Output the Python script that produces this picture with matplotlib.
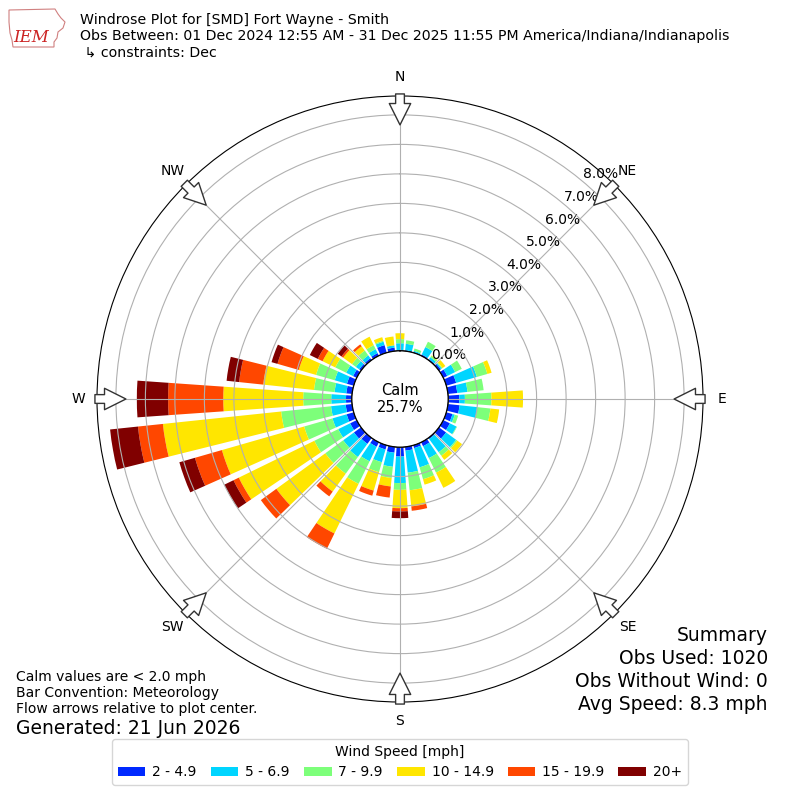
import numpy as np
import matplotlib
matplotlib.use('Agg')
import matplotlib.pyplot as plt
from matplotlib.patches import Patch, Polygon

# wind direction bins (deg, met. convention) and frequency [%] per speed class
directions = np.arange(0, 360, 10)
speed_labels = ['2 - 4.9', '5 - 6.9', '7 - 9.9', '10 - 14.9', '15 - 19.9', '20+']

pct_2_5 = [0.03, 0.03, 0.02, 0.05, 0.04, 0.08, 0.15, 0.35, 0.32, 0.38, 0.40, 0.22,
           0.25, 0.30, 0.05, 0.15, 0.10, 0.13, 0.32, 0.20, 0.15, 0.17, 0.25, 0.30,
           0.25, 0.25, 0.22, 0.20, 0.20, 0.24, 0.14, 0.08, 0.08, 0.10, 0.27, 0.12]
pct_5_7 = [0.23, 0.22, 0.05, 0.28, 0.08, 0.04, 0.30, 0.73, 0.35, 0.19, 0.60, 0.08,
           0.25, 0.42, 0.55, 0.45, 0.68, 0.75, 0.90, 0.48, 0.45, 0.55, 0.55, 0.45,
           0.45, 0.50, 0.50, 0.50, 0.40, 0.43, 0.26, 0.14, 0.12, 0.15, 0.12, 0.08]
pct_7_10 = [0.14, 0.12, 0.08, 0.20, 0.06, 0.03, 0.25, 0.37, 0.55, 0.90, 0.45, 0.12,
            0.02, 0.05, 0.15, 0.55, 0.42, 0.60, 0.23, 0.38, 0.35, 0.85, 0.70, 0.75,
            0.90, 1.00, 1.70, 0.95, 0.70, 0.66, 0.41, 0.16, 0.20, 0.15, 0.04, 0.00]
pct_10_15 = [0.20, 0.00, 0.00, 0.00, 0.02, 0.12, 0.00, 0.15, 0.00, 1.07, 0.30, 0.00,
             0.00, 0.20, 0.17, 0.57, 0.19, 0.55, 0.62, 0.29, 0.65, 1.87, 0.75, 2.05,
             2.85, 2.90, 4.03, 2.71, 1.73, 0.61, 0.48, 0.37, 0.18, 0.32, 0.12, 0.30]
pct_15_20 = [0, 0, 0, 0, 0, 0, 0, 0, 0, 0, 0, 0,
             0, 0, 0, 0, 0, 0.15, 0.11, 0.38, 0.18, 0.58, 0.20, 0.65,
             0.20, 0.95, 0.85, 1.87, 0.82, 0.75, 0.18, 0.07, 0.08, 0, 0, 0]
pct_20p = [0, 0, 0, 0, 0, 0, 0, 0, 0, 0, 0, 0,
           0, 0, 0, 0, 0, 0, 0.23, 0, 0, 0, 0, 0,
           0.35, 0.55, 0.95, 1.06, 0.43, 0.21, 0.30, 0.16, 0, 0, 0, 0]

calm_pct = 25.7
obs_used = 1020
obs_nowind = 0
avg_speed = 8.3

compass = ['N', 'NE', 'E', 'SE', 'S', 'SW', 'W', 'NW']
ring_vals = list(range(0, 9))

fig = plt.figure(figsize=(8, 8), dpi=100)
ax = fig.add_axes([0.12125, 0.1225, 0.7575, 0.7575], projection='polar')
ax.set_theta_zero_location('N')
ax.set_theta_direction(-1)
ax.set_rorigin(-1.63)
ax.set_ylim(0, 8.64)

colors = plt.cm.jet(np.linspace(0, 1, 7)[1:])
theta = np.deg2rad(directions)
bottom = np.zeros(len(directions))
handles = []
for vals, c, lbl in zip([pct_2_5, pct_5_7, pct_7_10, pct_10_15, pct_15_20, pct_20p],
                        colors, speed_labels):
    vals = np.array(vals)
    ax.bar(theta, vals, width=np.deg2rad(8), bottom=bottom, color=c,
           edgecolor='none', zorder=1)
    bottom += vals
    handles.append(Patch(facecolor=c, label=lbl))

ax.set_rgrids(ring_vals, labels=['%.1f%%' % v for v in ring_vals], angle=40,
              fontsize=10)
ax.set_thetagrids(range(0, 360, 45), compass, fontsize=10)
ax.tick_params(axis='x', pad=3)
ax.grid(True, color='#b0b0b0', lw=0.8)

# calm circle
tt = np.linspace(0, 2 * np.pi, 300)
ax.plot(tt, np.zeros_like(tt), color='k', lw=1, zorder=3)
ax.text(0.5, 0.5, 'Calm\n%.1f%%' % calm_pct, transform=ax.transAxes,
        ha='center', va='center', fontsize=10.5)

# flow arrows
for ang in range(0, 360, 45):
    th = np.deg2rad(ang)
    ax.annotate('', xy=(th, 7.66), xytext=(th, 8.71), annotation_clip=False,
                arrowprops=dict(arrowstyle='simple,head_length=1.1,head_width=1.1,tail_width=0.45',
                                fc='white', ec='#333333', lw=1,
                                shrinkA=0, shrinkB=0, mutation_scale=14))

# header
fig.text(0.1, 0.984, 'Windrose Plot for [SMD] Fort Wayne - Smith\n'
         'Obs Between: 01 Dec 2024 12:55 AM - 31 Dec 2025 11:55 PM America/Indiana/Indianapolis\n'
         ' \u21b3 constraints: Dec', ha='left', va='top', fontsize=10.2, linespacing=1.2)

# logo
iowa = [(9, 10), (55, 9), (58, 14), (61, 18), (65, 22), (63, 28), (58, 32), (57, 38),
        (54, 42), (54, 47), (13, 47), (12, 40), (10, 33), (9, 22)]
fig.patches.append(Polygon([(x / 800, 1 - y / 800) for x, y in iowa], closed=True,
                           fill=False, ec='#d08080', lw=0.8, transform=fig.transFigure))
fig.text(31 / 800, 1 - 38 / 800, 'IEM', color='#cc2222', fontsize=12, family='serif',
         style='italic', ha='center', va='center')

# footer notes
fig.text(0.02, 1 - 670 / 800, 'Calm values are < 2.0 mph\nBar Convention: Meteorology\n'
         'Flow arrows relative to plot center.', ha='left', va='top', fontsize=10,
         linespacing=1.2)
fig.text(0.02, 1 - 729 / 800, 'Generated: 21 Jun 2026', ha='left', va='center', fontsize=13.5)
fig.text(768 / 800, 1 - 626 / 800, 'Summary\nObs Used: %d\nObs Without Wind: %d\nAvg Speed: %.1f mph'
         % (obs_used, obs_nowind, avg_speed), ha='right', va='top', fontsize=13.5,
         linespacing=1.27)

fig.legend(handles=handles, loc='lower center', bbox_to_anchor=(0.5, 0.01), ncol=6,
           title='Wind Speed [mph]', fontsize=10, title_fontsize=10,
           columnspacing=1.0, handletextpad=0.5, handleheight=0.65)

fig.savefig('out.png', dpi=100)
